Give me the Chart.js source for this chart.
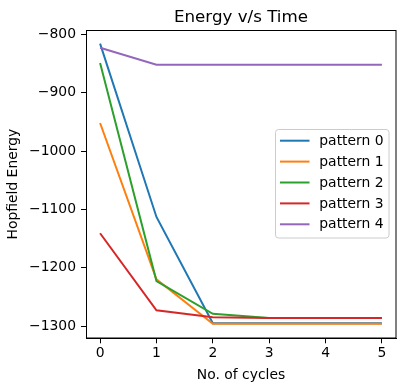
<!DOCTYPE html>
<html>
<head>
<meta charset="utf-8">
<script src="https://cdn.jsdelivr.net/npm/chart.js@4"></script>
<style>
html,body{margin:0;padding:0;background:#fff;}
#wrap{width:406px;height:391px;}
</style>
</head>
<body>
<div id="wrap"><canvas id="c" width="406" height="391"></canvas></div>
<script>
// ---- data ----
const cycles = [0, 1, 2, 3, 4, 5];
const seriesNames = ["pattern 0", "pattern 1", "pattern 2", "pattern 3", "pattern 4"];
const pattern0 = [-816, -1113, -1295, -1295, -1295, -1295];
const pattern1 = [-952, -1220, -1296, -1296, -1296, -1296];
const pattern2 = [-849, -1223, -1279, -1286, -1286, -1286];
const pattern3 = [-1141, -1273, -1285, -1286, -1286, -1286];
const pattern4 = [-823, -852, -852, -852, -852, -852];
const yTickValues = [-1300, -1200, -1100, -1000, -900, -800];
const xTickValues = [0, 1, 2, 3, 4, 5];
const chartTitle = 'Energy v/s Time';

const colors = ["#1f77b4", "#ff7f0e", "#2ca02c", "#d62728", "#9467bd"];
const allSeries = [pattern0, pattern1, pattern2, pattern3, pattern4];
const FONT = "'DejaVu Sans', sans-serif";

const datasets = allSeries.map((s, i) => ({
  label: seriesNames[i],
  data: s.map((v, k) => ({x: cycles[k], y: v})),
  borderColor: colors[i],
  backgroundColor: colors[i],
  borderWidth: 2,
  pointRadius: 0,
  tension: 0,
  fill: false,
  order: allSeries.length - 1 - i
}));

const fmt = v => String(v).replace('-', '\u2212');

const frame = {
  id: 'frame',
  afterDatasetsDraw(chart) {
    const {ctx, chartArea: a} = chart;
    ctx.save();
    ctx.strokeStyle = '#000';
    ctx.lineWidth = 1;
    ctx.strokeRect(Math.round(a.left) + 0.5, Math.round(a.top) + 0.5,
                   Math.round(a.right) - Math.round(a.left) - 1 + 0.5, Math.round(a.bottom) - Math.round(a.top) - 0.5);
    ctx.restore();
  }
};

const titlePlugin = {
  id: 'centerTitle',
  afterDraw(chart) {
    const {ctx, chartArea: a} = chart;
    ctx.save();
    ctx.font = '16.7px ' + FONT;
    ctx.fillStyle = '#000';
    ctx.textAlign = 'center';
    ctx.textBaseline = 'alphabetic';
    ctx.fillText(chartTitle, (a.left + a.right) / 2, 22);
    ctx.restore();
  }
};

const legendBox = {
  id: 'legendBox',
  afterDraw(chart) {
    const ctx = chart.ctx;
    const x0 = 275.5, y0 = 129.5, w = 113.5, h = 108.5, r = 3;
    ctx.save();
    ctx.beginPath();
    ctx.moveTo(x0 + r, y0);
    ctx.lineTo(x0 + w - r, y0);
    ctx.arcTo(x0 + w, y0, x0 + w, y0 + r, r);
    ctx.lineTo(x0 + w, y0 + h - r);
    ctx.arcTo(x0 + w, y0 + h, x0 + w - r, y0 + h, r);
    ctx.lineTo(x0 + r, y0 + h);
    ctx.arcTo(x0, y0 + h, x0, y0 + h - r, r);
    ctx.lineTo(x0, y0 + r);
    ctx.arcTo(x0, y0, x0 + r, y0, r);
    ctx.closePath();
    ctx.fillStyle = 'rgba(255,255,255,0.8)';
    ctx.fill();
    ctx.strokeStyle = '#cccccc';
    ctx.lineWidth = 1;
    ctx.stroke();
    ctx.font = '13.9px ' + FONT;
    ctx.textBaseline = 'middle';
    ctx.textAlign = 'left';
    chart.data.datasets.forEach((ds, i) => {
      const cy = 140.7 + i * 20.9;
      ctx.strokeStyle = ds.borderColor;
      ctx.lineWidth = 2;
      ctx.beginPath();
      ctx.moveTo(280, cy);
      ctx.lineTo(309.5, cy);
      ctx.stroke();
      ctx.fillStyle = '#000';
      ctx.fillText(ds.label, 319.3, cy + 0.5);
    });
    ctx.restore();
  }
};

new Chart(document.getElementById('c'), {
  type: 'line',
  data: {datasets},
  plugins: [frame, legendBox, titlePlugin],
  options: {
    responsive: false,
    devicePixelRatio: 1,
    animation: false,
    layout: {padding: {left: 0, right: 10, top: 30, bottom: 0}},
    plugins: {
      legend: {display: false},
      tooltip: {enabled: false},
      title: {display: false}
    },
    scales: {
      x: {
        type: 'linear',
        min: -0.25,
        max: 5.25,
        afterBuildTicks: s => { s.ticks = xTickValues.map(v => ({value: v})); },
        afterFit: s => { s.height = 52.7; },
        ticks: {
          color: '#000',
          font: {family: FONT, size: 13.9},
          padding: 2,
          maxRotation: 0,
          callback: v => fmt(v)
        },
        grid: {display: true, drawOnChartArea: false, drawTicks: true, tickLength: 5, color: '#000', tickWidth: 1},
        border: {display: true, color: '#000', width: 1},
        title: {
          display: true,
          text: 'No. of cycles',
          color: '#000',
          font: {family: FONT, size: 13.9},
          padding: {top: 0, bottom: 7}
        }
      },
      y: {
        type: 'linear',
        min: -1321,
        max: -792.6,
        afterBuildTicks: s => { s.ticks = yTickValues.map(v => ({value: v})); },
        afterFit: s => { s.width = 86; },
        ticks: {
          color: '#000',
          font: {family: FONT, size: 13.9},
          padding: 5,
          callback: v => fmt(v)
        },
        grid: {display: true, drawOnChartArea: false, drawTicks: true, tickLength: 5, color: '#000', tickWidth: 1},
        border: {display: true, color: '#000', width: 1},
        title: {
          display: true,
          text: 'Hopfield Energy',
          color: '#000',
          font: {family: FONT, size: 13.9},
          padding: {top: 5, bottom: 0}
        }
      }
    }
  }
});
</script>
</body>
</html>
